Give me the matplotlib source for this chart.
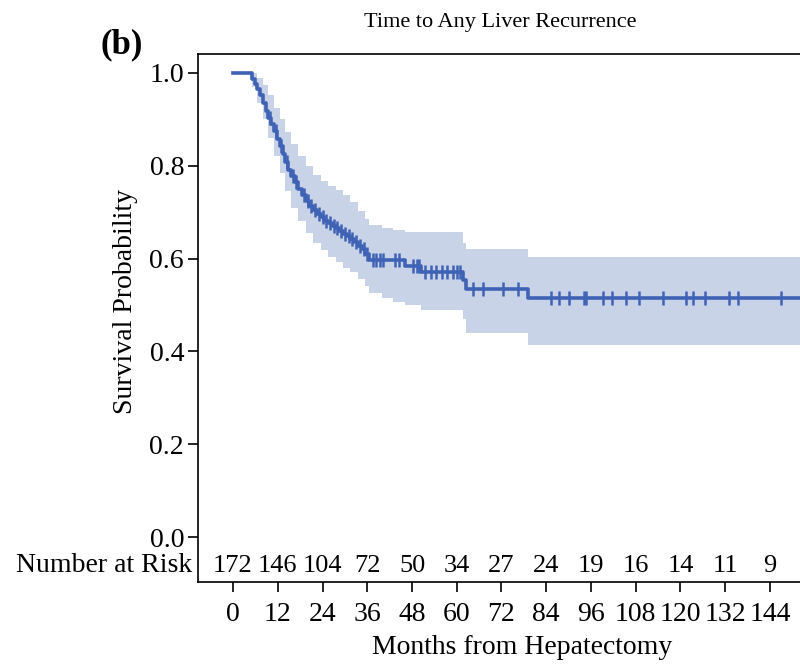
import numpy as np
import matplotlib
matplotlib.use("Agg")
import matplotlib.pyplot as plt

plt.rcParams['font.family'] = ['Liberation Serif', 'DejaVu Serif']

# Kaplan-Meier steps (months, survival)
step_t = [0, 5.0, 5.8, 6.5, 7.3, 8.0, 8.8, 9.5, 10.3, 11.0, 11.8, 12.5, 13.3, 14.0,
          14.8, 15.6, 16.5, 17.5, 18.5, 19.5, 20.5, 21.5, 22.5, 23.5, 24.5, 25.5,
          26.5, 27.5, 28.5, 29.5, 30.5, 31.5, 32.5, 33.5, 34.5, 35.5, 36.5, 46.0,
          50.5, 61.7, 62.5, 79.1, 156]
surv = [1.0, 0.988, 0.977, 0.965, 0.953, 0.936, 0.918, 0.903, 0.889, 0.874, 0.858,
        0.843, 0.826, 0.808, 0.792, 0.778, 0.764, 0.750, 0.737, 0.725, 0.714, 0.704,
        0.697, 0.690, 0.682, 0.676, 0.671, 0.666, 0.660, 0.654, 0.648, 0.642, 0.636,
        0.628, 0.620, 0.610, 0.596, 0.584, 0.571, 0.554, 0.534, 0.515, 0.515]

# confidence band
ci_t = [0, 5.0, 6.5, 8.0, 9.5, 11.0, 12.5, 14.0, 15.6, 17.5, 19.5, 21.5, 23.5, 25.5,
        27.5, 29.5, 31.5, 33.5, 35.5, 36.5, 40.0, 43.0, 46.0, 50.5, 61.7, 62.5, 79.1, 156]
ci_low = [1.0, 0.97, 0.935, 0.90, 0.86, 0.822, 0.785, 0.745, 0.71, 0.68, 0.655, 0.633,
          0.618, 0.603, 0.593, 0.58, 0.572, 0.555, 0.54, 0.525, 0.515, 0.506, 0.50,
          0.489, 0.47, 0.44, 0.414, 0.414]
ci_up = [1.0, 1.0, 0.99, 0.975, 0.952, 0.925, 0.9, 0.872, 0.847, 0.822, 0.8, 0.78,
         0.768, 0.757, 0.747, 0.737, 0.722, 0.702, 0.686, 0.672, 0.666, 0.661, 0.657,
         0.657, 0.634, 0.62, 0.603, 0.603]

# censored observations (months)
censor_t = [10.0, 11.4, 13.0, 14.4, 16.0, 17.0, 19.0, 20.0, 21.0, 22.0, 23.0, 24.0,
            25.0, 26.0, 27.0, 28.0, 29.0, 30.0, 31.0, 32.0, 33.0, 34.0, 35.0, 36.0,
            37.5, 38.4, 39.3, 40.2, 43.4, 44.5, 48.3, 49.3, 50.0, 51.5, 53.0, 54.5,
            56.0, 57.5, 59.0, 60.0, 61.0, 64.3, 67.0, 72.4, 76.4, 85.3, 87.4, 90.1,
            94.1, 94.6, 99.2, 101.6, 105.4, 108.8, 115.3, 121.4, 123.3, 126.5,
            133.0, 135.4, 146.9]

risk_months = [0, 12, 24, 36, 48, 60, 72, 84, 96, 108, 120, 132, 144]
at_risk = [172, 146, 104, 72, 50, 34, 27, 24, 19, 16, 14, 11, 9]

line_col = '#3f62b5'
band_col = '#c8d3e8'

fig = plt.figure(figsize=(8, 6.66), dpi=100)
ax = fig.add_axes([0.2475, 0.126, 0.7525, 0.793])

ax.fill_between(ci_t, ci_low, ci_up, step='post', color=band_col, lw=0)
ax.step(step_t, surv, where='post', color=line_col, lw=2.6)

idx = np.searchsorted(step_t, censor_t, side='right') - 1
cy = np.array(surv)[idx]
ax.plot(censor_t, cy, ls='none', marker='|', ms=10, mew=1.8, color=line_col)

ax.set_xlim(-9.39, 152.05)
ax.set_ylim(-0.097, 1.041)
ax.set_xticks(risk_months)
ax.set_yticks([0, 0.2, 0.4, 0.6, 0.8, 1.0])
ax.set_yticklabels(['0.0', '0.2', '0.4', '0.6', '0.8', '1.0'])
ax.tick_params(axis='both', direction='out', length=7, width=1.2, labelsize=20,
               pad=3, colors='black')
ax.tick_params(axis='x', pad=7)
ax.spines['right'].set_visible(False)
for s in ['left', 'bottom', 'top']:
    ax.spines[s].set_linewidth(1.2)

for m, n in zip(risk_months, at_risk):
    ax.text(m, -0.062, str(n), ha='center', va='center', fontsize=19)
ax.text(-11.0, -0.062, 'Number at Risk', ha='right', va='center', fontsize=20,
        clip_on=False)

fig.text(125 / 800, 1 - 302 / 666, 'Survival Probability', rotation=90,
         ha='center', va='center', fontsize=20)
fig.text(522 / 800, 1 - 647 / 666, 'Months from Hepatectomy', ha='center',
         va='center', fontsize=20)
fig.text(500 / 800, 1 - 22 / 666, 'Time to Any Liver Recurrence', ha='center',
         va='center', fontsize=16)
fig.text(122 / 800, 1 - 45 / 666, '(b)', ha='center', va='center', fontsize=25,
         fontweight='bold')

fig.savefig('out.png', dpi=100)
